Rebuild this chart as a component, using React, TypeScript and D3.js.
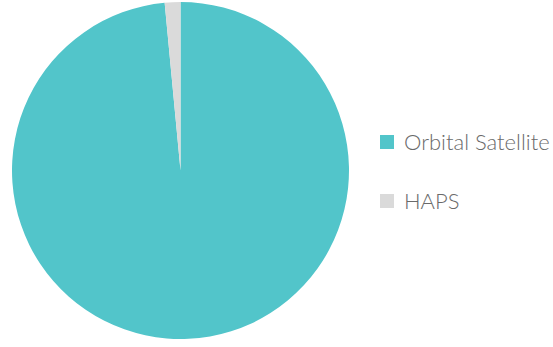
import React from "react";
import * as d3 from "d3";

const categories = ["Orbital Satellite", "HAPS"];
const values = [98.5, 1.5];
const colors = ["#52C5CA", "#DADADA"];

export default function App() {
  const width = 553;
  const height = 347;
  const cx = 180.5;
  const cy = 170.5;
  const r = 168.5;
  const pie = d3.pie<number>().sort(null).value((d) => d)(values);
  const arc = d3.arc<d3.PieArcDatum<number>>().innerRadius(0).outerRadius(r);
  return (
    <svg width={width} height={height} style={{ position: "absolute", left: 0, top: 0 }}>
      <g transform={`translate(${cx},${cy})`}>
        {pie.map((p, i) => (
          <path key={i} d={arc(p) || ""} fill={colors[i]} />
        ))}
      </g>
      {categories.map((c, i) => (
        <g key={c} transform={`translate(380,${142 + i * 59})`}>
          <rect x={0} y={-7} width={14} height={14} fill={colors[i]} />
          <text x={24} y={8} fontFamily="Lato" fontWeight={300} fontSize={22} fill="#6a6a6a">
            {c}
          </text>
        </g>
      ))}
    </svg>
  );
}
